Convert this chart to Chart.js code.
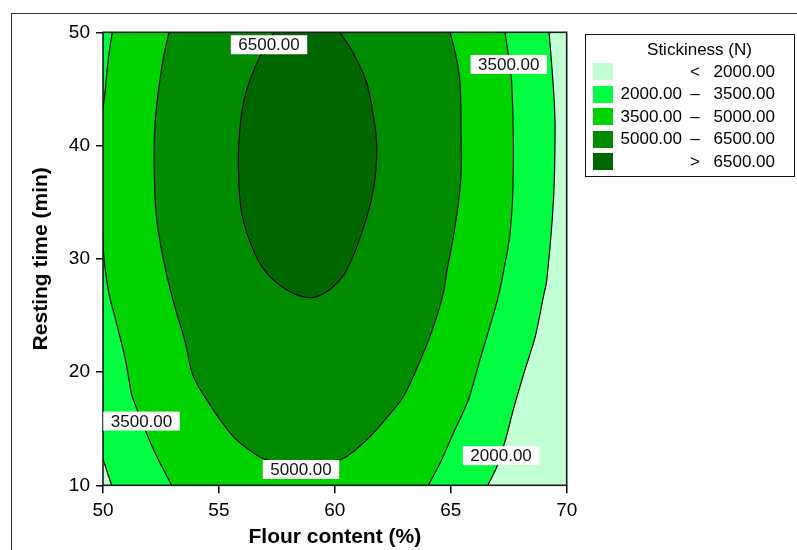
<!DOCTYPE html>
<html>
<head>
<meta charset="utf-8">
<script src="https://cdn.jsdelivr.net/npm/chart.js@4/dist/chart.umd.min.js"></script>
<style>
  html, body { margin: 0; padding: 0; background: #fff; }
  #wrap { position: relative; width: 797px; height: 550px; overflow: hidden;
          font-family: "Liberation Sans", Arial, sans-serif; color: #000; }
  #frame { position: absolute; left: 11px; top: 13px; width: 900px; height: 700px;
           border: 1.5px solid #333; box-sizing: border-box; }
  #c { position: absolute; left: 0; top: 0; }
  #legendBox { position: absolute; left: 585px; top: 34px; width: 210px; height: 143px;
               border: 1.5px solid #111; box-sizing: border-box; background: #fff; }
  .lg { position: absolute; font-size: 17px; line-height: 20px; white-space: nowrap; }
  .sw { position: absolute; width: 20px; height: 17px; }
</style>
</head>
<body>
<div id="wrap">
  <div id="frame"></div>
  <div id="legendBox"></div>
  <canvas id="c" width="797" height="550"></canvas>
</div>
<script>
// Axis ranges and ticks
const xRange = [50, 70];
const yRange = [10, 50];
const xStep = 5;
const yStep = 10;

// Contour levels of stickiness (N) and the band colours, lowest band first
const levels = [2000, 3500, 5000, 6500];
const bandColors = ['#c2ffd4', '#00ff40', '#00d400', '#008c00', '#006600'];

// Contour traces as [flour content %, resting time min]
const c2000Right = [
  [69.24, 50], [69.36, 46.96], [69.46, 44.0], [69.50, 41.4], [69.43, 35.2],
  [69.14, 28.1], [69.0, 26.7], [68.64, 23.1], [68.2, 20.2], [67.7, 16.7],
  [67.4, 14.3], [67.0, 11.7], [66.6, 10]
];
const c2000Corner = [[50, 12.3], [50.18, 11.2], [50.37, 10]];

const c3500Right = [
  [67.34, 50], [67.49, 47.85], [67.63, 45.5], [67.70, 38.1], [67.56, 32.3],
  [67.2, 28.1], [66.98, 26.1], [66.55, 23.1], [66.26, 21.1], [65.76, 17.55],
  [65.11, 14.6], [64.54, 11.96], [64.03, 10]
];
const c3500LeftUpper = [[50.40, 50], [50.23, 47.7], [50.09, 44.76], [50, 43.3]];
const c3500LeftLower = [
  [50, 31.67], [50.04, 30.08], [50.24, 27.1], [50.60, 24.17], [50.95, 21.25],
  [51.21, 18.28], [51.31, 17.55], [51.81, 14.9], [52.32, 12.54], [52.96, 10]
];

const c5000 = [
  [52.85, 50], [52.60, 47.7], [52.39, 44.76], [52.24, 41.82], [52.21, 38.29],
  [52.27, 34.49], [52.46, 31.52], [52.75, 28.58], [53.11, 25.67], [53.54, 22.69],
  [53.90, 19.6], [54.76, 16.66], [55.62, 14.31], [56.48, 12.87], [57.06, 12.25],
  [58.54, 11.9], [60.0, 12.16], [60.51, 12.54], [61.52, 14.31], [62.38, 16.31],
  [62.96, 17.84], [63.75, 21.34], [64.25, 23.99], [64.68, 26.99], [64.84, 29.02],
  [65.14, 32.29], [65.43, 36.96], [65.44, 41.38], [65.40, 45.5], [65.23, 47.85],
  [64.97, 50]
];

const c6500 = [
  [57.38, 50], [56.77, 47.85], [56.34, 45.79], [56.08, 44.02], [55.91, 41.67],
  [55.84, 38.14], [55.98, 34.05], [56.48, 30.79], [57.06, 28.76], [57.92, 27.26],
  [58.64, 26.64], [59.22, 26.66], [59.94, 27.55], [60.51, 29.02], [61.16, 32.29],
  [61.66, 36.08], [61.81, 39.61], [61.73, 41.67], [61.38, 45.5], [60.80, 48.15],
  [60.22, 50]
];

// Contour labels placed on their lines: level, flour %, resting min
const labelLevels = [6500, 3500, 3500, 5000, 2000];
const labelX = [57.16, 67.5, 51.66, 58.54, 67.17];
const labelY = [48.9, 47.16, 15.67, 11.4, 12.62];

// ---- filled bands: area at or above each level; the open side runs along the plot edge ----
const toPts = arr => arr.map(p => ({ x: p[0], y: p[1] }));
const rev = arr => arr.slice().reverse();

const region2000 = [[xRange[0], yRange[1]], ...c2000Right, ...rev(c2000Corner)];
const region3500 = [...c3500Right, ...rev(c3500LeftLower), ...rev(c3500LeftUpper)];
const regions = [c6500, c5000, region3500, region2000];

const fillSets = regions.map((r, i) => ({
  data: toPts(r),
  showLine: true,
  fill: 'shape',
  backgroundColor: bandColors[4 - i],
  borderWidth: 0,
  borderColor: 'rgba(0,0,0,0)',
  pointRadius: 0,
  tension: 0,
  order: i + 1
}));

// ---- contour lines drawn over the bands ----
const traces = [c2000Right, c2000Corner, c3500Right, c3500LeftUpper, c3500LeftLower, c5000, c6500];
const lineSets = traces.map(t => ({
  data: toPts(t),
  showLine: true,
  fill: false,
  borderColor: '#000',
  borderWidth: 1.2,
  pointRadius: 0,
  tension: 0.3,
  order: 0
}));

Chart.defaults.font.family = '"Liberation Sans", Arial, sans-serif';
Chart.defaults.color = '#000';

const contourPlugin = {
  id: 'contourDecor',
  beforeDatasetsDraw(chart) {
    const { ctx, chartArea: a } = chart;
    ctx.save();
    ctx.fillStyle = bandColors[0];
    ctx.fillRect(a.left, a.top, a.right - a.left, a.bottom - a.top);
    ctx.restore();
  },
  afterDatasetsDraw(chart) {
    const { ctx, chartArea: a, scales } = chart;
    ctx.save();
    ctx.strokeStyle = '#1a1a1a';
    ctx.lineWidth = 1.6;
    ctx.strokeRect(a.left, a.top, a.right - a.left, a.bottom - a.top);
    ctx.font = '17px "Liberation Sans", Arial, sans-serif';
    ctx.textAlign = 'center';
    ctx.textBaseline = 'middle';
    labelLevels.forEach((lv, i) => {
      const txt = lv.toFixed(2);
      const px = scales.x.getPixelForValue(labelX[i]);
      const py = scales.y.getPixelForValue(labelY[i]);
      const w = ctx.measureText(txt).width + 15;
      const h = 19;
      ctx.fillStyle = '#fff';
      ctx.fillRect(px - w / 2, py - h / 2, w, h);
      ctx.fillStyle = '#111';
      ctx.fillText(txt, px, py + 1);
    });
    ctx.restore();
  }
};

new Chart(document.getElementById('c'), {
  type: 'scatter',
  data: { datasets: [...lineSets, ...fillSets] },
  options: {
    responsive: false,
    animation: false,
    events: [],
    layout: { padding: { left: 0, top: 32.3, right: 230.3, bottom: 0 } },
    plugins: { legend: { display: false }, tooltip: { enabled: false } },
    scales: {
      x: {
        type: 'linear', min: xRange[0], max: xRange[1],
        ticks: { stepSize: xStep, color: '#000', font: { size: 19 }, padding: 6 },
        grid: { drawOnChartArea: false, drawTicks: true, tickLength: 8, color: '#000', lineWidth: 1.5 },
        border: { display: false },
        title: { display: true, text: 'Flour content (%)', color: '#000',
                 font: { size: 21, weight: 'bold' }, padding: { top: 0, bottom: 0 } },
        afterFit(s) { s.height = 64.7; }
      },
      y: {
        type: 'linear', min: yRange[0], max: yRange[1],
        ticks: { stepSize: yStep, color: '#000', font: { size: 19 }, padding: 6 },
        grid: { drawOnChartArea: false, drawTicks: true, tickLength: 7, color: '#000', lineWidth: 1.5 },
        border: { display: false },
        title: { display: true, text: 'Resting time (min)', color: '#000',
                 font: { size: 21, weight: 'bold' }, padding: { top: 29, bottom: 0 } },
        afterFit(s) { s.width = 103; }
      }
    }
  },
  plugins: [contourPlugin]
});

// ---- legend ----
const wrap = document.getElementById('wrap');
function addText(txt, left, top, align, width) {
  const d = document.createElement('div');
  d.className = 'lg';
  d.textContent = txt;
  d.style.top = top + 'px';
  d.style.left = left + 'px';
  d.style.width = width + 'px';
  d.style.textAlign = align;
  wrap.appendChild(d);
}
addText('Stickiness (N)', 599.5, 40, 'center', 200);
const fmt = v => v.toFixed(2);
const n = levels.length;
const rowsLow = ['', ...levels.slice(0, n - 1).map(fmt), ''];
const rowsSym = ['<', ...levels.slice(1).map(() => '–'), '>'];
const rowsHigh = [...levels.map(fmt), fmt(levels[n - 1])];
for (let i = 0; i <= n; i++) {
  const cy = 71.7 + i * 22.5;
  const sw = document.createElement('div');
  sw.className = 'sw';
  sw.style.left = '593px';
  sw.style.top = (cy - 8.6) + 'px';
  sw.style.background = bandColors[i];
  wrap.appendChild(sw);
  addText(rowsLow[i], 582, cy - 10, 'right', 100);
  addText(rowsSym[i], 685, cy - 10, 'center', 20);
  addText(rowsHigh[i], 675, cy - 10, 'right', 100);
}
</script>
</body>
</html>
